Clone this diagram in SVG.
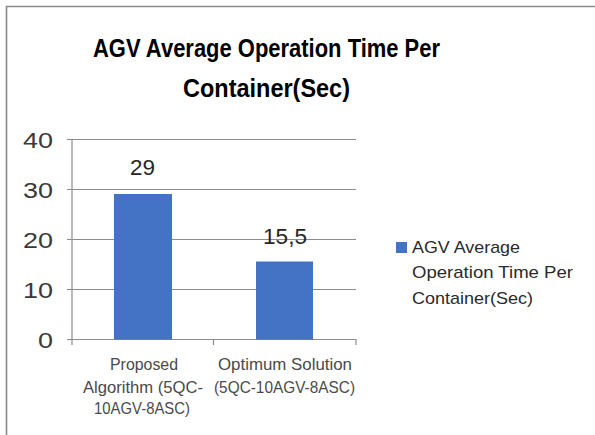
<svg xmlns="http://www.w3.org/2000/svg" width="595" height="435" viewBox="0 0 595 435">
  <style>
    text { font-family: "Liberation Sans", Arial, sans-serif; }
    .title { font-size: 26px; font-weight: bold; fill: #000; text-anchor: middle; }
    .tick { font-size: 21.5px; fill: #3a3a3a; text-anchor: end; }
    .value { font-size: 21.5px; fill: #262626; text-anchor: middle; }
    .cat { font-size: 16.5px; fill: #4a4a4a; text-anchor: middle; }
    .legend { font-size: 17px; fill: #2a2a2a; }
    .grid { stroke: #8c8c8c; stroke-width: 1; fill: none; }
    .axis { stroke: #8c8c8c; stroke-width: 1.2; fill: none; }
    .bar { fill: #4472C4; }
    .frame { stroke: #8a8a8a; stroke-width: 1.6; fill: none; }
  </style>

  <rect width="595" height="435" fill="#ffffff"/>

  <!-- chart area border (top and left edges) -->
  <path class="frame" d="M6.5 435 V6.5 H595"/>

  <!-- title -->
  <g id="title">
    <text class="title" x="266.5" y="57" textLength="347" lengthAdjust="spacingAndGlyphs">AGV Average Operation Time Per</text>
    <text class="title" x="266.5" y="97" textLength="167" lengthAdjust="spacingAndGlyphs">Container(Sec)</text>
  </g>

  <!-- gridlines and axes -->
  <g id="axes">
    <path class="grid" d="M72 139.5 H356 M72 189.5 H356 M72 239.5 H356 M72 289.5 H356"/>
    <path class="axis" d="M72 139 V339 M67 139.5 H72 M67 189.5 H72 M67 239.5 H72 M67 289.5 H72 M67 339.5 H72"/>
    <path class="axis" d="M67 339.5 H356 M72 339 V345 M213.5 339 V345 M356 339 V345"/>
  </g>

  <!-- y axis labels -->
  <g id="y-labels">
    <text class="tick" x="53" y="148" textLength="30" lengthAdjust="spacingAndGlyphs">40</text>
    <text class="tick" x="53" y="198" textLength="30" lengthAdjust="spacingAndGlyphs">30</text>
    <text class="tick" x="53" y="248" textLength="30" lengthAdjust="spacingAndGlyphs">20</text>
    <text class="tick" x="53" y="298" textLength="30" lengthAdjust="spacingAndGlyphs">10</text>
    <text class="tick" x="53" y="348" textLength="15" lengthAdjust="spacingAndGlyphs">0</text>
  </g>

  <!-- bars -->
  <g id="bar-proposed">
    <rect class="bar" x="114" y="194" width="58" height="145.5"/>
    <text class="value" x="142.5" y="175" textLength="25" lengthAdjust="spacingAndGlyphs">29</text>
  </g>
  <g id="bar-optimum">
    <rect class="bar" x="256" y="261.5" width="57" height="78"/>
    <text class="value" x="285" y="244" textLength="44" lengthAdjust="spacingAndGlyphs">15,5</text>
  </g>

  <!-- category labels -->
  <g id="x-labels">
    <text class="cat" x="144" y="370" textLength="68" lengthAdjust="spacingAndGlyphs">Proposed</text>
    <text class="cat" x="143" y="393" textLength="120" lengthAdjust="spacingAndGlyphs">Algorithm (5QC-</text>
    <text class="cat" x="142" y="414" textLength="96" lengthAdjust="spacingAndGlyphs">10AGV-8ASC)</text>
    <text class="cat" x="285" y="370" textLength="134" lengthAdjust="spacingAndGlyphs">Optimum Solution</text>
    <text class="cat" x="284.5" y="393" textLength="141" lengthAdjust="spacingAndGlyphs">(5QC-10AGV-8ASC)</text>
  </g>

  <!-- legend -->
  <g id="legend">
    <rect class="bar" x="396" y="242" width="11" height="11"/>
    <text class="legend" x="412" y="253" textLength="108" lengthAdjust="spacingAndGlyphs">AGV Average</text>
    <text class="legend" x="412" y="278" textLength="161" lengthAdjust="spacingAndGlyphs">Operation Time Per</text>
    <text class="legend" x="412" y="304" textLength="121" lengthAdjust="spacingAndGlyphs">Container(Sec)</text>
  </g>
</svg>
